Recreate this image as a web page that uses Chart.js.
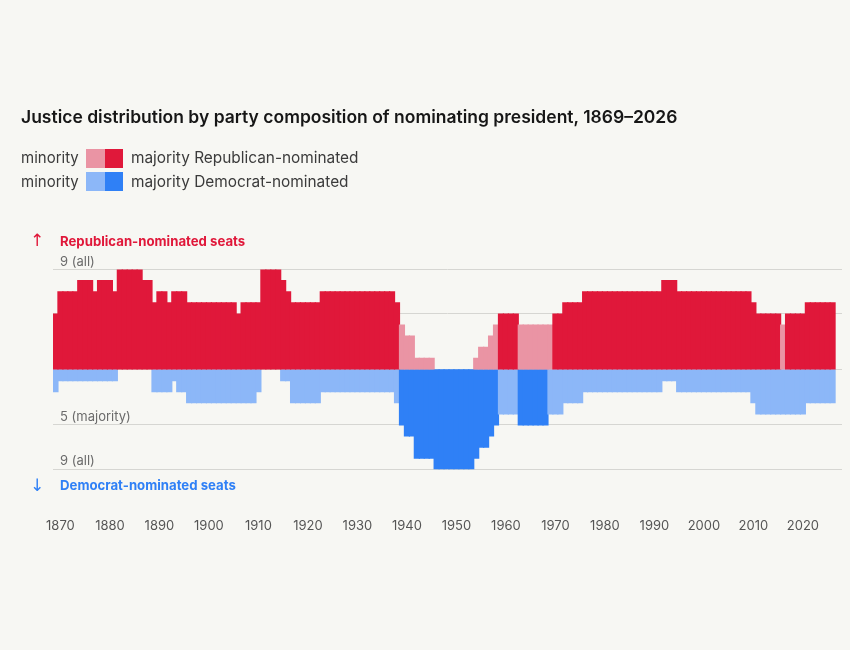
<!DOCTYPE html>
<html>
<head>
<meta charset="utf-8">
<title>Justice distribution by party composition of nominating president</title>
<script src="https://cdn.jsdelivr.net/npm/chart.js@4.4.1/dist/chart.umd.min.js"></script>
<style>
  html, body { margin: 0; padding: 0; background: #f7f7f3; }
  #page { position: relative; width: 850px; height: 650px; overflow: hidden;
          font-family: Inter, 'Noto Sans', sans-serif; }
  #title { position: absolute; left: 21px; top: 105px; font-size: 17.5px; font-weight: 600;
           color: #161616; line-height: 24px; white-space: nowrap; }
  .legend-text { position: absolute; font-size: 15px; color: #3b3b3b; line-height: 20px; white-space: nowrap; }
  .legend-text.wide { font-size: 15.4px; }
  .swatch { position: absolute; left: 86px; width: 37px; height: 19px; display: flex; }
  .swatch span { flex: 1; }
  .axis-note { position: absolute; left: 60px; font-size: 13.2px; font-weight: 700; line-height: 18px; white-space: nowrap; }
  .arrow { position: absolute; left: 30px; font-family: 'DejaVu Sans', sans-serif; font-size: 17px; line-height: 18px; }
  #chartCanvas { position: absolute; left: 0; top: 0; }
</style>
</head>
<body>
<div id="page">
  <canvas id="chartCanvas" width="850" height="650"></canvas>

  <div id="title">Justice distribution by party composition of nominating president, 1869–2026</div>

  <div class="legend-text" style="left:21px; top:148px;">minority</div>
  <div class="swatch" style="top:149px;"><span id="swRepMin"></span><span id="swRepMaj"></span></div>
  <div class="legend-text wide" style="left:131px; top:148px;">majority Republican-nominated</div>

  <div class="legend-text" style="left:21px; top:172px;">minority</div>
  <div class="swatch" style="top:172px;"><span id="swDemMin"></span><span id="swDemMaj"></span></div>
  <div class="legend-text wide" style="left:131px; top:172px;">majority Democrat-nominated</div>

  <div class="arrow" id="repArrow" style="top:231px;">↑</div>
  <div class="axis-note" id="repNote" style="top:232px;">Republican-nominated seats</div>
  <div class="arrow" id="demArrow" style="top:476px;">↓</div>
  <div class="axis-note" id="demNote" style="top:476px;">Democrat-nominated seats</div>
</div>

<script>
// ---------------- Data ------------------------------------------------------
// Seats held by justices nominated by each party, one value per year.
const firstYear = 1869 ;

const repSeats = [
    5,                             // 1869
    7, 7, 7, 7, 8, 8, 8, 7, 8, 8,  // 1870s
    8, 7, 9, 9, 9, 9, 9, 8, 8, 6,  // 1880s
    7, 7, 6, 7, 7, 7, 6, 6, 6, 6,  // 1890s
    6, 6, 6, 6, 6, 6, 5, 6, 6, 6,  // 1900s
    6, 9, 9, 9, 9, 8, 7, 6, 6, 6,  // 1910s
    6, 6, 6, 7, 7, 7, 7, 7, 7, 7,  // 1920s
    7, 7, 7, 7, 7, 7, 7, 7, 6, 4,  // 1930s
    3, 3, 1, 1, 1, 1, 0, 0, 0, 0,  // 1940s
    0, 0, 0, 0, 1, 2, 2, 3, 4, 5,  // 1950s
    5, 5, 5, 4, 4, 4, 4, 4, 4, 4,  // 1960s
    5, 5, 6, 6, 6, 6, 7, 7, 7, 7,  // 1970s
    7, 7, 7, 7, 7, 7, 7, 7, 7, 7,  // 1980s
    7, 7, 8, 8, 8, 7, 7, 7, 7, 7,  // 1990s
    7, 7, 7, 7, 7, 7, 7, 7, 7, 7,  // 2000s
    6, 5, 5, 5, 5, 5, 4, 5, 5, 5,  // 2010s
    5, 6, 6, 6, 6, 6, 6            // 2020s
] ;

const demSeats = [
    2,                             // 1869
    1, 1, 1, 1, 1, 1, 1, 1, 1, 1,  // 1870s
    1, 1, 0, 0, 0, 0, 0, 0, 0, 2,  // 1880s
    2, 2, 2, 1, 2, 2, 3, 3, 3, 3,  // 1890s
    3, 3, 3, 3, 3, 3, 3, 3, 3, 3,  // 1900s
    2, 0, 0, 0, 0, 1, 1, 3, 3, 3,  // 1910s
    3, 3, 3, 2, 2, 2, 2, 2, 2, 2,  // 1920s
    2, 2, 2, 2, 2, 2, 2, 2, 3, 5,  // 1930s
    6, 6, 8, 8, 8, 8, 9, 9, 9, 9,  // 1940s
    9, 9, 9, 9, 8, 7, 7, 6, 5, 4,  // 1950s
    4, 4, 4, 5, 5, 5, 5, 5, 5, 4,  // 1960s
    4, 4, 3, 3, 3, 3, 2, 2, 2, 2,  // 1970s
    2, 2, 2, 2, 2, 2, 2, 2, 2, 2,  // 1980s
    2, 2, 1, 1, 1, 2, 2, 2, 2, 2,  // 1990s
    2, 2, 2, 2, 2, 2, 2, 2, 2, 2,  // 2000s
    3, 4, 4, 4, 4, 4, 4, 4, 4, 4,  // 2010s
    4, 3, 3, 3, 3, 3, 3            // 2020s
] ;

const tickYears = [ 1870, 1880, 1890, 1900, 1910, 1920, 1930, 1940,
                    1950, 1960, 1970, 1980, 1990, 2000, 2010, 2020 ] ;

const seatMarks      = [ 9, 5, 0, -5, -9 ] ;
const seatMarkLabels = [ '9 (all)', '', '', '5 (majority)', '9 (all)' ] ;

const majoritySeats = 5 ;

// ---------------- Colours ---------------------------------------------------
const REP_MAJ = '#e0183a' ;
const REP_MIN = '#ea94a4' ;
const DEM_MAJ = '#2f80f6' ;
const DEM_MIN = '#8cb7f8' ;

const years = repSeats.map( ( v, i ) => firstYear + i ) ;

// ---------------- Page bits outside the canvas ------------------------------
document.getElementById( 'swRepMin' ).style.background = REP_MIN ;
document.getElementById( 'swRepMaj' ).style.background = REP_MAJ ;
document.getElementById( 'swDemMin' ).style.background = DEM_MIN ;
document.getElementById( 'swDemMaj' ).style.background = DEM_MAJ ;
document.getElementById( 'repArrow' ).style.color = REP_MAJ ;
document.getElementById( 'repNote'  ).style.color = REP_MAJ ;
document.getElementById( 'demArrow' ).style.color = DEM_MAJ ;
document.getElementById( 'demNote'  ).style.color = DEM_MAJ ;

// ---------------- Chart -----------------------------------------------------
Chart.defaults.font.family = "Inter, 'Noto Sans', sans-serif" ;

function seatColor( ctx, majColor, minColor ) {
    if( !ctx.raw ) return majColor ;
    return Math.abs( ctx.raw.y ) >= majoritySeats ? majColor : minColor ;
}

// overlap neighbours a little so no seams show, but no hairline for empty years
function inflateFor( ctx ) {
    return ( ctx.raw && ctx.raw.y !== 0 ) ? 0.6 : 0 ;
}

function getRepDataset() {
    return {
        type               : 'bar',
        label              : 'Republican-nominated',
        data               : years.map( ( y, i ) => ( { x: y, y: repSeats[i] } ) ),
        backgroundColor    : ctx => seatColor( ctx, REP_MAJ, REP_MIN ),
        borderWidth        : 0,
        inflateAmount      : inflateFor,
        grouped            : false,
        barPercentage      : 1,
        categoryPercentage : 1
    } ;
}

function getDemDataset() {
    return {
        type               : 'bar',
        label              : 'Democrat-nominated',
        data               : years.map( ( y, i ) => ( { x: y, y: -demSeats[i] } ) ),
        backgroundColor    : ctx => seatColor( ctx, DEM_MAJ, DEM_MIN ),
        borderWidth        : 0,
        inflateAmount      : inflateFor,
        grouped            : false,
        barPercentage      : 1,
        categoryPercentage : 1
    } ;
}

function getScaleOptions() {
    return {
        x : {
            type   : 'linear',
            offset : false,
            min    : 1868.5,
            max    : 2027.9,
            grid   : { display: false, drawTicks: false },
            border : { display: false },
            afterBuildTicks : function( scale ) {
                scale.ticks = tickYears.map( v => ( { value: v } ) ) ;
            },
            ticks  : {
                autoSkip    : false,
                maxRotation : 0,
                padding     : 0,
                color       : '#555555',
                // tall line box pushes the year labels down below the chart
                font        : { size: 13, lineHeight: '113px' },
                callback    : v => String( v )
            }
        },
        y : {
            min    : -9,
            max    : 9,
            grid   : { color: '#d6d6d2', lineWidth: 1, drawTicks: false },
            border : { display: false },
            afterBuildTicks : function( scale ) {
                scale.ticks = seatMarks.map( v => ( { value: v } ) ) ;
            },
            ticks  : {
                mirror      : true,
                padding     : 7,
                labelOffset : -8,
                color       : '#6b6b6b',
                font        : { size: 13 },
                callback    : function( value ) {
                    const idx = seatMarks.indexOf( value ) ;
                    return idx >= 0 ? seatMarkLabels[ idx ] : '' ;
                }
            }
        }
    } ;
}

function getChartOptions() {
    return {
        responsive        : false,
        devicePixelRatio  : 1,
        animation         : false,
        layout : {
            padding : { left: 39, right: 8, top: 269.6, bottom: 67.7 }
        },
        plugins : {
            legend  : { display: false },
            tooltip : { enabled: false }
        },
        scales : getScaleOptions()
    } ;
}

const canvas = document.getElementById( 'chartCanvas' ) ;
const chart = new Chart( canvas, {
    data    : { datasets: [ getRepDataset(), getDemDataset() ] },
    options : getChartOptions()
} ) ;
</script>
</body>
</html>
